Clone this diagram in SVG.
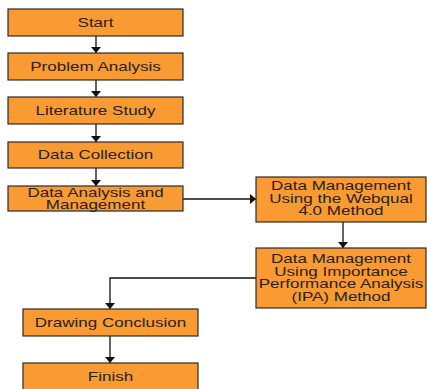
<svg xmlns="http://www.w3.org/2000/svg" width="427" height="389" viewBox="0 0 427 389">
<defs>
<style>
.box{fill:#F99A32;stroke:#2b2b2b;stroke-width:1.2}
.t{font-family:"Liberation Sans",Arial,sans-serif;font-size:12px;fill:#2a2218;text-anchor:middle}
.c{fill:none;stroke:#111;stroke-width:1.3}
</style>
<marker id="ah" viewBox="0 0 6 10" refX="6" refY="5" markerWidth="6" markerHeight="10" markerUnits="userSpaceOnUse" orient="auto">
<path d="M0,0 L6,5 L0,10 z" fill="#111"/>
</marker>
</defs>
<g id="connectors">
<line class="c" x1="96" y1="36" x2="96" y2="53" marker-end="url(#ah)"/>
<line class="c" x1="96" y1="80" x2="96" y2="97" marker-end="url(#ah)"/>
<line class="c" x1="96" y1="124" x2="96" y2="142" marker-end="url(#ah)"/>
<line class="c" x1="96" y1="168" x2="96" y2="186" marker-end="url(#ah)"/>
<line class="c" x1="183" y1="199" x2="256" y2="199" marker-end="url(#ah)"/>
<line class="c" x1="343" y1="222" x2="343" y2="248" marker-end="url(#ah)"/>
<polyline class="c" points="256,278 110,278 110,309" marker-end="url(#ah)"/>
<line class="c" x1="110" y1="336" x2="110" y2="363" marker-end="url(#ah)"/>
</g>
<g id="start">
<rect class="box" x="8" y="9" width="175" height="27"/>
<text class="t" transform="translate(95.5,26.5) scale(1.42,1)">Start</text>
</g>
<g id="problem">
<rect class="box" x="8" y="53" width="175" height="27"/>
<text class="t" transform="translate(95.5,70.5) scale(1.42,1)">Problem Analysis</text>
</g>
<g id="literature">
<rect class="box" x="8" y="97" width="175" height="27"/>
<text class="t" transform="translate(95.5,114.5) scale(1.42,1)">Literature Study</text>
</g>
<g id="collection">
<rect class="box" x="8" y="142" width="175" height="26"/>
<text class="t" transform="translate(95.5,159) scale(1.42,1)">Data Collection</text>
</g>
<g id="analysis">
<rect class="box" x="8" y="186" width="175" height="25"/>
<text class="t" transform="translate(95.5,196.5) scale(1.42,1)">Data Analysis and</text>
<text class="t" transform="translate(95.5,208.5) scale(1.42,1)">Management</text>
</g>
<g id="webqual">
<rect class="box" x="256" y="177" width="170" height="45"/>
<text class="t" transform="translate(341,190) scale(1.42,1)">Data Management</text>
<text class="t" transform="translate(341,202.5) scale(1.42,1)">Using the Webqual</text>
<text class="t" transform="translate(341,215) scale(1.42,1)">4.0 Method</text>
</g>
<g id="ipa">
<rect class="box" x="256" y="248" width="170" height="60"/>
<text class="t" transform="translate(341,263) scale(1.42,1)">Data Management</text>
<text class="t" transform="translate(341,275.7) scale(1.42,1)">Using Importance</text>
<text class="t" transform="translate(341,288.4) scale(1.42,1)">Performance Analysis</text>
<text class="t" transform="translate(341,301) scale(1.42,1)">(IPA) Method</text>
</g>
<g id="conclusion">
<rect class="box" x="23" y="309" width="175" height="27"/>
<text class="t" transform="translate(110.5,326.5) scale(1.42,1)">Drawing Conclusion</text>
</g>
<g id="finish">
<rect class="box" x="23" y="363" width="175" height="30"/>
<text class="t" transform="translate(110.5,380.5) scale(1.42,1)">Finish</text>
</g>
</svg>
